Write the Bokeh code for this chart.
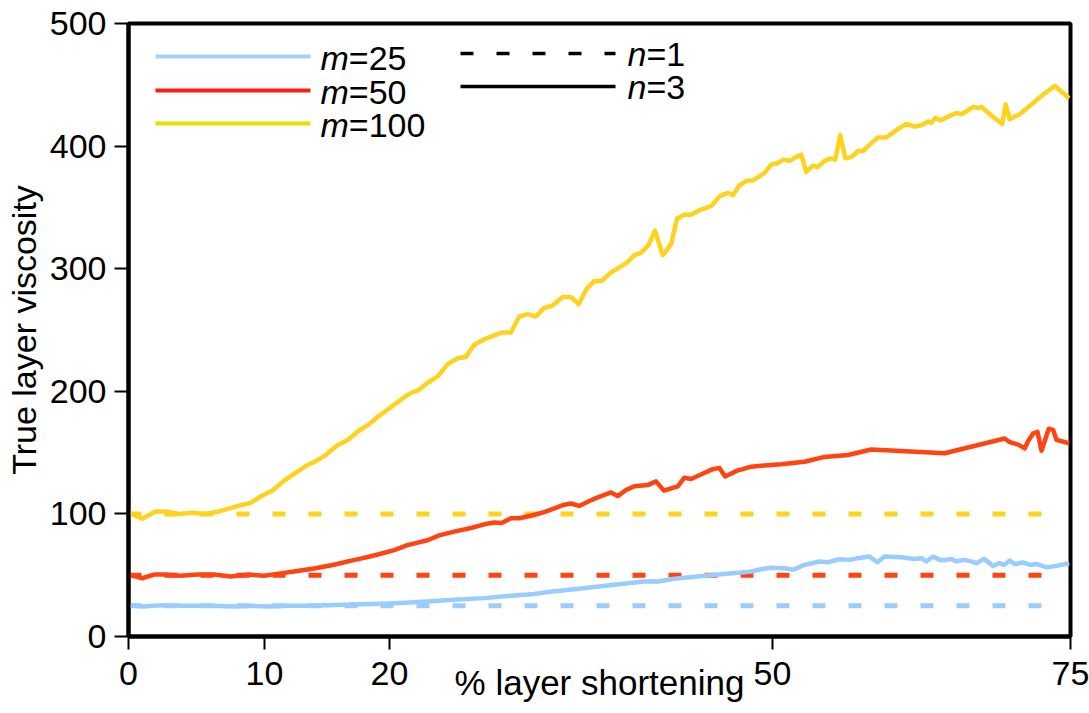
from bokeh.plotting import figure
from bokeh.models import FixedTicker, Label, Arrow, Range1d
from bokeh.embed import file_html
from bokeh.resources import INLINE

FONT = "Liberation Sans"

# ---- axis ticks ----
x_ticks = [0, 10.83, 20.78, 51.27, 75]
x_tick_labels = ["0", "10", "20", "50", "75"]
y_ticks = [0, 100, 200, 300, 400, 500]

# ---- n=3 curves ----
m25_x = [0, 1.22, 2.55, 4.41, 6.54, 8.39, 9.72, 11.05, 12.65, 14.24,
         15.84, 17.69, 19.55, 21.68, 23.81, 25.93, 28.32, 30.71, 32.30, 33.37,
         35.49, 37.09, 39.21, 41.07, 42.14, 43.46, 45.32, 47.18, 48.78, 49.57,
         50.37, 51.17, 52.23, 52.90, 53.82, 55.02, 55.68, 56.61, 57.40, 58.08,
         59.00, 59.62, 60.20, 61.53, 62.59, 63.13, 63.52, 64.06, 64.58, 65.12,
         65.51, 65.91, 66.45, 66.97, 67.51, 68.12, 68.84, 69.36, 69.71, 70.16,
         70.56, 71.23, 71.76, 72.29, 73.09, 73.88, 74.9]
m25_y = [25.5, 24.5, 25.5, 25, 25, 24.5, 25, 24.5, 25, 25,
         25.5, 26, 26.5, 27.3, 28.5, 30, 31.3, 33.5, 34.7, 36.3,
         38.6, 40.3, 42.8, 44.9, 44.9, 47.1, 49, 50.8, 52.2, 53,
         54.9, 56, 55.7, 54.4, 58.4, 61.2, 60.6, 63, 62.5, 63.9,
         65.2, 60.6, 65.2, 64.6, 63.3, 63.9, 61.2, 65.2, 62.5, 62.5,
         63.3, 61.2, 62.5, 61.7, 59.8, 63.3, 57.6, 59.8, 58.4, 62,
         59, 60.4, 58.4, 59.2, 56.4, 57.6, 59.8]

m50_x = [0, 1.09, 2.02, 2.82, 4.14, 5.48, 6.80, 8.13, 9.59, 10.78,
         12.11, 13.17, 14.77, 16.36, 17.56, 18.49, 19.29, 20.08, 21.15, 22.21,
         23.81, 24.73, 25.93, 27.26, 28.32, 29.11, 29.70, 30.45, 31.11, 32.04,
         33.10, 33.90, 34.69, 35.23, 35.89, 36.69, 37.36, 38.42, 38.95, 39.61,
         40.27, 41.34, 42.00, 42.62, 43.73, 44.26, 44.79, 45.45, 46.52, 47.05,
         47.50, 48.51, 48.91, 49.57, 50.63, 51.97, 53.82, 55.42, 57.28, 59.14,
         64.98, 69.76, 70.16, 70.83, 71.36, 71.63, 72.02, 72.37, 72.69, 73.27,
         73.62, 73.88, 74.9]
m50_y = [50.5, 47.5, 50.5, 50.5, 49.5, 50.5, 50.5, 49, 50.5, 49.5,
         51.5, 53, 55.5, 58.5, 61.5, 63.5, 65.5, 67.5, 70.5, 74.5,
         78.5, 82.5, 85.5, 88.5, 91.5, 93, 92.5, 96.5, 96.5, 98.5,
         101.5, 104.5, 107.5, 108.5, 106.5, 110.5, 113.5, 117.5, 114.5, 119.5,
         122.5, 123.5, 126.5, 119, 122.5, 129.5, 128.5, 131.5, 136.5, 137.5,
         130.5, 135.5, 136.5, 138.5, 139.5, 140.5, 142.5, 146.5, 148, 152.5,
         149.5, 161.5, 158.5, 156.5, 153.5, 159.5, 165.5, 167, 151.5, 169.5,
         168.5, 160.5, 157.5]

m100_x = [0, 1.09, 2.15, 2.95, 4.01, 5.08, 6.14, 7.20, 8.53, 9.72,
          10.66, 11.45, 12.51, 14.11, 14.90, 15.70, 16.63, 17.43, 18.36, 19.15,
          19.95, 20.75, 21.54, 22.34, 23.09, 23.81, 24.60, 25.40, 26.20, 26.86,
          27.52, 28.45, 29.78, 30.45, 31.11, 31.78, 32.44, 33.10, 33.77, 34.57,
          35.23, 35.84, 36.50, 37.09, 37.67, 38.42, 39.08, 39.69, 40.27, 40.81,
          41.39, 41.92, 42.54, 43.20, 43.68, 44.26, 44.79, 45.53, 46.39, 47.05,
          47.72, 48.12, 48.64, 49.26, 49.71, 50.63, 51.17, 51.65, 52.18, 52.63,
          53.16, 53.56, 53.96, 54.49, 54.89, 55.42, 55.90, 56.27, 56.67, 57.07,
          57.54, 58.08, 58.48, 59.00, 59.67, 60.33, 60.87, 61.27, 61.93, 62.59,
          63.13, 63.66, 63.92, 64.24, 64.66, 65.25, 65.91, 66.37, 67.25, 67.64,
          67.91, 68.70, 69.56, 69.84, 70.16, 70.96, 71.89, 72.82, 73.75, 74.9]
m100_y = [101, 96, 102, 102, 100, 101, 100, 102, 106, 109,
          115, 119, 128, 139, 143, 148, 156, 160, 168, 173,
          180, 186, 192, 198, 201, 207, 212, 222, 227, 228,
          238, 243, 248, 248, 261, 263, 261, 268, 270, 277,
          277, 271, 284, 290, 290, 297, 301, 305, 311, 313,
          319, 331, 311, 320, 341, 344, 344, 348, 351, 359,
          362, 360, 368, 372, 372, 378, 385, 386, 389, 388,
          391, 393, 379, 384, 383, 388, 390, 389, 409, 390,
          391, 396, 396, 401, 407, 407, 411, 414, 418, 416,
          417, 420, 419, 423, 421, 424, 427, 426, 432, 431,
          432, 425, 418, 434, 422, 426, 434, 442, 449, 439]

# ---- n=1 constant viscosities ----
n1_levels = [25, 50, 100]
n1_x = [0, 74.2]

series_colors = ["#99CCFF", "#FF4411", "#FFD21E"]
legend_colors = ["#A3D1FF", "#FF1A14", "#E5E000"]
m_labels = ["=25", "=50", "=100"]
n_labels = ["=1", "=3"]

p = figure(frame_width=942, frame_height=613,
           x_range=Range1d(0, 75), y_range=Range1d(0, 500),
           output_backend="svg", toolbar_location=None, tools="",
           min_border_left=128, min_border_right=19,
           min_border_top=23, min_border_bottom=77,
           background_fill_color="white", border_fill_color="white")

p.xgrid.visible = False
p.ygrid.visible = False
p.outline_line_color = "black"
p.outline_line_width = 4
p.outline_line_alpha = 1

for ax in (p.xaxis[0], p.yaxis[0]):
    ax.axis_line_width = 4
    ax.axis_line_color = "black"
    ax.major_tick_line_width = 2
    ax.major_tick_line_color = "black"
    ax.major_tick_in = 0
    ax.major_tick_out = 14
    ax.minor_tick_line_color = None
    ax.major_label_text_font = FONT
    ax.major_label_text_font_size = "34px"
    ax.major_label_text_color = "black"

p.xaxis[0].ticker = FixedTicker(ticks=x_ticks)
p.xaxis[0].major_label_overrides = {t: l for t, l in zip(x_ticks, x_tick_labels)}
p.xaxis[0].major_label_standoff = 12
p.xaxis[0].major_tick_out = 13
p.xaxis[0].axis_label = "% layer shortening"
p.xaxis[0].axis_label_text_font = FONT
p.xaxis[0].axis_label_text_font_size = "35px"
p.xaxis[0].axis_label_text_font_style = "normal"
p.xaxis[0].axis_label_text_color = "black"
p.xaxis[0].axis_label_standoff = -25

p.yaxis[0].ticker = FixedTicker(ticks=y_ticks)
p.yaxis[0].major_label_standoff = 8
p.yaxis[0].axis_label = "True layer viscosity"
p.yaxis[0].axis_label_text_font = FONT
p.yaxis[0].axis_label_text_font_size = "34px"
p.yaxis[0].axis_label_text_font_style = "normal"
p.yaxis[0].axis_label_text_color = "black"
p.yaxis[0].axis_label_standoff = 4

# n=1 dashed lines
for lvl, col in zip(n1_levels, series_colors):
    p.line(n1_x, [lvl, lvl], line_color=col, line_width=5, line_dash="13 23")

# n=3 solid curves
for xs, ys, col in zip([m25_x, m50_x, m100_x], [m25_y, m50_y, m100_y], series_colors):
    p.line(xs, ys, line_color=col, line_width=4.5, line_join="round")

# legend, column 1 (m)
leg_fs = "34px"
m_w = 28.3
row_line_y = [580, 546, 513]
row_text_y = [578.5, 544.5, 511.5]
for ly, ty, col, lab in zip(row_line_y, row_text_y, legend_colors, m_labels):
    p.add_layout(Arrow(end=None, x_start=27, y_start=ly, x_end=182, y_end=ly,
                       start_units="screen", end_units="screen",
                       line_color=col, line_width=4))
    p.add_layout(Label(x=192, y=ty, x_units="screen", y_units="screen", text="m",
                       text_font=FONT, text_font_size=leg_fs, text_font_style="italic",
                       text_baseline="middle", text_color="black"))
    p.add_layout(Label(x=192 + m_w, y=ty, x_units="screen", y_units="screen", text=lab,
                       text_font=FONT, text_font_size=leg_fs,
                       text_baseline="middle", text_color="black"))

# legend, column 2 (n)
n_w = 18.9
n_line_y = [583, 550]
n_text_y = [583, 550]
n_dash = ["13 23", "solid"]
for ly, ty, dash, lab in zip(n_line_y, n_text_y, n_dash, n_labels):
    p.add_layout(Arrow(end=None, x_start=332, y_start=ly, x_end=487, y_end=ly,
                       start_units="screen", end_units="screen",
                       line_color="black", line_width=3.5, line_dash=dash))
    p.add_layout(Label(x=499, y=ty, x_units="screen", y_units="screen", text="n",
                       text_font=FONT, text_font_size=leg_fs, text_font_style="italic",
                       text_baseline="middle", text_color="black"))
    p.add_layout(Label(x=499 + n_w, y=ty, x_units="screen", y_units="screen", text=lab,
                       text_font=FONT, text_font_size=leg_fs,
                       text_baseline="middle", text_color="black"))

open("out.html", "w").write(file_html(p, INLINE))
